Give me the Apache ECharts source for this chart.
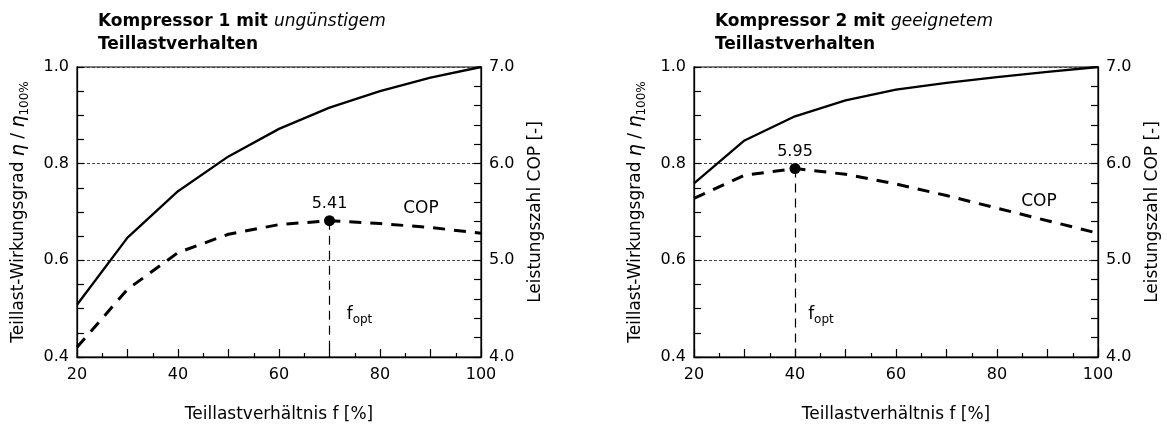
<!DOCTYPE html>
<html><head><meta charset="utf-8">
<script src="https://cdn.jsdelivr.net/npm/echarts@6/dist/echarts.min.js"></script>
<style>html,body{margin:0;padding:0;background:#fff}#c{width:1167px;height:428px}</style>
</head><body><div id="c"></div>
<script>
// ---- data ----
const loadPct = [20, 30, 40, 50, 60, 70, 80, 90, 100];
const eta1 = [0.508, 0.647, 0.743, 0.815, 0.872, 0.916, 0.950, 0.978, 1.0];
const cop1 = [4.10, 4.70, 5.08, 5.27, 5.37, 5.41, 5.38, 5.34, 5.28];
const eta2 = [0.759, 0.848, 0.898, 0.931, 0.953, 0.967, 0.979, 0.990, 1.0];
const cop2 = [5.64, 5.88, 5.95, 5.89, 5.79, 5.67, 5.54, 5.41, 5.28];
const opt1 = [70, 5.41];
const opt2 = [40, 5.95];
const xTickLabels = [20, 40, 60, 80, 100];
const etaTickLabels = [0.4, 0.6, 0.8, 1.0];
const copTickLabels = [4.0, 5.0, 6.0, 7.0];
const titleMain = ['Kompressor 1 mit ', 'Kompressor 2 mit '];
const titleItalic = ['ungünstigem', 'geeignetem'];
const titleLine2 = 'Teillastverhalten';
const xName = 'Teillastverhältnis f [%]';
const copName = 'Leistungszahl COP [-]';

const FONT = 'DejaVu Sans';
const BLACK = '#000';
const grids = [{left: 77, top: 67, width: 404, height: 290}, {left: 694, top: 67, width: 404, height: 290}];
const copLabelPos = [[88.1, 5.54], [88.3, 5.61]];
const foptLabelPos = [[73.4, 4.44], [42.6, 4.44]];

const zip = (xs, ys) => xs.map((x, i) => [x, ys[i]]);
const has = (arr, v) => arr.some(a => Math.abs(a - v) < 1e-6);

const option = {
  animation: false,
  backgroundColor: '#fff',
  title: [0, 1].map(i => ({
    left: grids[i].left + 21, top: 10, padding: 0,
    text: '{b|' + titleMain[i] + '}{i|' + titleItalic[i] + '}\n{b|' + titleLine2 + '}',
    textStyle: {
      rich: {
        b: {fontFamily: FONT, fontWeight: 'bold', fontSize: 17, color: BLACK, lineHeight: 23},
        i: {fontFamily: FONT, fontStyle: 'italic', fontWeight: 'normal', fontSize: 17, color: BLACK, lineHeight: 23}
      }
    }
  })),
  grid: grids.map(g => Object.assign({show: true, borderColor: BLACK, borderWidth: 1.2, backgroundColor: 'transparent', containLabel: false, outerBoundsMode: 'none'}, g)),
  xAxis: [0, 1].map(i => ({
    gridIndex: i, type: 'value', min: 20, max: 100, interval: 10,
    axisLine: {show: true, lineStyle: {color: BLACK, width: 1.3}},
    axisTick: {show: true, inside: true, length: 8, lineStyle: {color: BLACK, width: 1.2}},
    minorTick: {show: true, splitNumber: 2, length: 4, lineStyle: {color: BLACK, width: 1.2}},
    splitLine: {show: false},
    axisLabel: {color: BLACK, fontFamily: FONT, fontSize: 16, margin: 10,
      formatter: v => has(xTickLabels, v) ? String(v) : ''},
    name: xName, nameLocation: 'middle', nameGap: 49,
    nameTextStyle: {color: BLACK, fontFamily: FONT, fontSize: 17}
  })),
  yAxis: [0, 1].flatMap(i => [
    {
      gridIndex: i, type: 'value', position: 'left', min: 0.4, max: 1.0, interval: 0.2,
      axisLine: {show: true, lineStyle: {color: BLACK, width: 1.3}},
      axisTick: {show: true, inside: true, length: 7, lineStyle: {color: BLACK, width: 1.2}},
      minorTick: {show: true, splitNumber: 4, length: 7, lineStyle: {color: BLACK, width: 1.2}},
      splitLine: {show: true, lineStyle: {color: '#444', width: 1, type: [3, 2]}},
      axisLabel: {color: BLACK, fontFamily: FONT, fontSize: 16, margin: 8,
        formatter: v => has(etaTickLabels, v) ? v.toFixed(1) : ''},
      name: '{a|Teillast-Wirkungsgrad }{g|η}{a| / }{g|η}{s|100%}',
      nameLocation: 'middle', nameRotate: 90, nameGap: 46,
      nameTextStyle: {
        rich: {
          a: {fontFamily: FONT, fontSize: 17, color: BLACK, lineHeight: 24},
          g: {fontFamily: FONT, fontSize: 19, fontStyle: 'italic', color: BLACK, lineHeight: 24},
          s: {fontFamily: FONT, fontSize: 12, color: BLACK, lineHeight: 12, verticalAlign: 'bottom'}
        }
      }
    },
    {
      gridIndex: i, type: 'value', position: 'right', min: 4, max: 7, interval: 1,
      axisLine: {show: true, lineStyle: {color: BLACK, width: 1.3}},
      axisTick: {show: true, inside: true, length: 7, lineStyle: {color: BLACK, width: 1.2}},
      minorTick: {show: true, splitNumber: 5, length: 7, lineStyle: {color: BLACK, width: 1.2}},
      splitLine: {show: false},
      axisLabel: {color: BLACK, fontFamily: FONT, fontSize: 16, margin: 8,
        formatter: v => has(copTickLabels, v) ? v.toFixed(1) : ''},
      name: copName, nameLocation: 'middle', nameRotate: 90, nameGap: 46,
      nameTextStyle: {color: BLACK, fontFamily: FONT, fontSize: 17}
    }
  ]),
  series: []
};

const etas = [eta1, eta2], cops = [cop1, cop2], opts = [opt1, opt2];
[0, 1].forEach(i => {
  option.series.push({
    type: 'line', xAxisIndex: i, yAxisIndex: 2 * i, data: zip(loadPct, etas[i]),
    symbol: 'none', silent: true, lineStyle: {color: BLACK, width: 2.3}
  });
  option.series.push({
    type: 'line', xAxisIndex: i, yAxisIndex: 2 * i + 1, data: zip(loadPct, cops[i]),
    symbol: 'none', silent: true, lineStyle: {color: BLACK, width: 3, type: [12, 9]}
  });
  option.series.push({
    type: 'scatter', xAxisIndex: i, yAxisIndex: 2 * i + 1, data: [opts[i]], z: 5,
    symbolSize: 11, itemStyle: {color: BLACK, opacity: 1},
    label: {show: true, position: 'top', distance: 3, color: BLACK, opacity: 1, fontFamily: FONT, fontSize: 16,
      formatter: p => p.value[1].toFixed(2)},
    markLine: {
      symbol: 'none', silent: true, label: {show: false},
      lineStyle: {color: BLACK, width: 1.2, type: [9, 6], opacity: 1},
      data: [[{coord: [opts[i][0], opts[i][1]]}, {coord: [opts[i][0], 4]}]]
    }
  });
  option.series.push({
    type: 'scatter', xAxisIndex: i, yAxisIndex: 2 * i + 1, data: [copLabelPos[i]],
    symbolSize: 0, silent: true, itemStyle: {color: BLACK, opacity: 1},
    label: {show: true, position: 'inside', color: BLACK, opacity: 1, fontFamily: FONT, fontSize: 17, formatter: 'COP'}
  });
  option.series.push({
    type: 'scatter', xAxisIndex: i, yAxisIndex: 2 * i + 1, data: [foptLabelPos[i]],
    symbolSize: 0, silent: true, itemStyle: {color: BLACK, opacity: 1},
    label: {show: true, position: 'right', distance: 0, opacity: 1, formatter: '{f|f}{s|opt}',
      rich: {
        f: {fontFamily: FONT, fontSize: 17, color: BLACK, lineHeight: 22},
        s: {fontFamily: FONT, fontSize: 12, color: BLACK, lineHeight: 12, verticalAlign: 'bottom'}
      }}
  });
});

const chart = echarts.init(document.getElementById('c'), null, {renderer: 'canvas'});
chart.setOption(option);
</script>
</body></html>
